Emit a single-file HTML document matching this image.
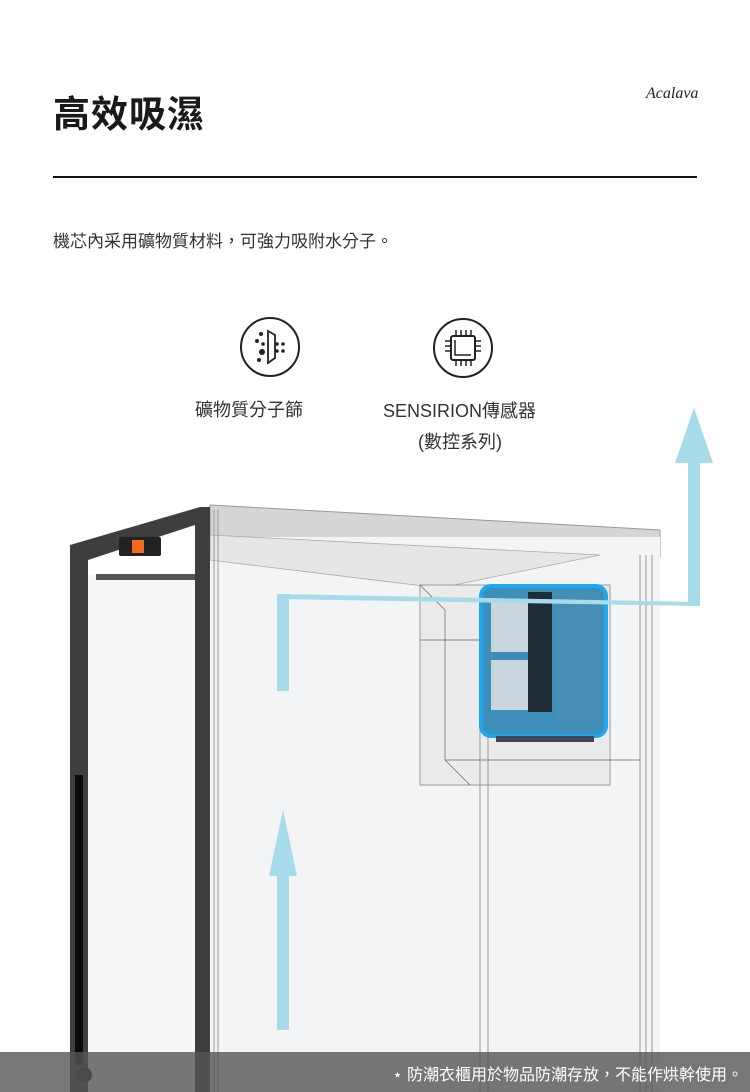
<!DOCTYPE html>
<html><head><meta charset="utf-8"><style>
body{margin:0;width:750px;height:1092px;position:relative;overflow:hidden;background:#fff;font-family:"Liberation Sans","Noto Sans CJK TC",sans-serif;color:#222}
.a{position:absolute}
</style></head><body>
<div class="a" style="left:53px;top:84px;font-size:37px;font-weight:bold;letter-spacing:1px;color:#1a1a1a">高效吸濕</div>
<div class="a" style="left:646px;top:85px;font-family:'Liberation Serif',serif;font-style:italic;font-size:16px;color:#222">Acalava</div>
<div class="a" style="left:53px;top:176px;width:644px;height:2px;background:#111"></div>
<div class="a" style="left:53px;top:227px;font-size:17px;color:#333">機芯內采用礦物質材料，可強力吸附水分子。</div>

<svg class="a" style="left:0;top:0" width="750" height="1092">
<circle cx="270" cy="347" r="29" fill="none" stroke="#222" stroke-width="2"/>
<circle cx="463" cy="348" r="29" fill="none" stroke="#222" stroke-width="2"/>
<g fill="#222"><circle cx="261" cy="334" r="2"/><circle cx="257" cy="341" r="2"/><circle cx="263" cy="344" r="1.8"/><circle cx="262" cy="352" r="3"/><circle cx="259" cy="360" r="2"/><circle cx="277" cy="344" r="1.8"/><circle cx="283" cy="344" r="1.8"/><circle cx="277" cy="351" r="1.8"/><circle cx="283" cy="351" r="1.8"/></g>
<path d="M268 331 L275 335 L275 358 L268 363Z" fill="none" stroke="#222" stroke-width="1.8"/>
<rect x="451" y="336" width="24" height="24" rx="2" fill="none" stroke="#222" stroke-width="2"/>
<path d="M455 340 V355 H471" fill="none" stroke="#222" stroke-width="1.5"/>
<g stroke="#222" stroke-width="1.5"><path d="M456 330v5M461 330v5M466 330v5M471 330v5M456 361v5M461 361v5M466 361v5M471 361v5M445 341h5M445 346h5M445 351h5M476 341h5M476 346h5M476 351h5"/></g>

<polygon points="210,505 660,530 660,557 210,537" fill="#d6d6d6" stroke="#999" stroke-width="1"/>
<rect x="210" y="537" width="450" height="555" fill="#f3f4f5"/>
<polygon points="210,535 600,555 440,588 210,560" fill="#e6e6e6" stroke="#aaa" stroke-width="0.8"/>
<rect x="420" y="585" width="190" height="200" fill="#ebebeb" stroke="#888" stroke-width="0.8"/>
<path d="M420 585 L445 610 M445 610 V760 L470 785 M445 760 H640 M420 640 H480" stroke="#666" stroke-width="0.7" fill="none"/>
<g stroke="#999" stroke-width="1" fill="none"><path d="M480 600V1092M488 600V1092M640 555V1092M646 555V1092M652 555V1092M214 510V1092M218 510V1092"/></g>
<rect x="88" y="575" width="107" height="517" fill="#f6f7f8"/>
<polygon points="70,545 200,507 210,507 210,1092 195,1092 195,525 88,560 88,1092 70,1092" fill="#3d3e40"/>
<rect x="96" y="574" width="99" height="6" fill="#555"/>
<rect x="119" y="537" width="42" height="19" rx="2" fill="#222"/>
<rect x="132" y="540" width="12" height="13" fill="#f26a1b"/>
<rect x="75" y="775" width="8" height="290" fill="#0a0a0a"/>
<circle cx="84" cy="1075" r="8" fill="#222"/>
<rect x="481" y="586" width="125" height="150" rx="10" fill="#3d8eb8" stroke="#1ea8f0" stroke-width="4"/>
<rect x="491" y="602" width="38" height="50" fill="#c9d6dd"/>
<rect x="491" y="660" width="38" height="50" fill="#c9d6dd"/>
<rect x="528" y="592" width="24" height="120" fill="#1f2c36"/>
<rect x="555" y="592" width="45" height="130" fill="#4a8fb4" opacity=".8"/>
<rect x="496" y="736" width="98" height="6" fill="#445"/>
<g fill="#a6dbea">
<polygon points="278,594 700,602 700,606 278,599"/>
<rect x="277" y="594" width="12" height="97"/>
<rect x="688" y="460" width="12" height="146"/>
<polygon points="694,408 713,463 675,463"/>
<rect x="277" y="872" width="12" height="158"/>
<polygon points="283,810 297,876 269,876"/>
</g>
</svg>

<div class="a" style="left:195px;top:396px;font-size:18px;color:#333">礦物質分子篩</div>
<div class="a" style="left:383px;top:397px;font-size:18px;color:#333">SENSIRION傳感器</div>
<div class="a" style="left:418px;top:428px;font-size:18px;color:#333">(數控系列)</div>

<div class="a" style="left:0;top:1052px;width:750px;height:40px;background:rgba(85,85,85,.8)"></div>
<div class="a" style="right:7px;top:1061px;font-size:16px;color:#fff">⋆ 防潮衣櫃用於物品防潮存放，不能作烘幹使用。</div>
</body></html>
